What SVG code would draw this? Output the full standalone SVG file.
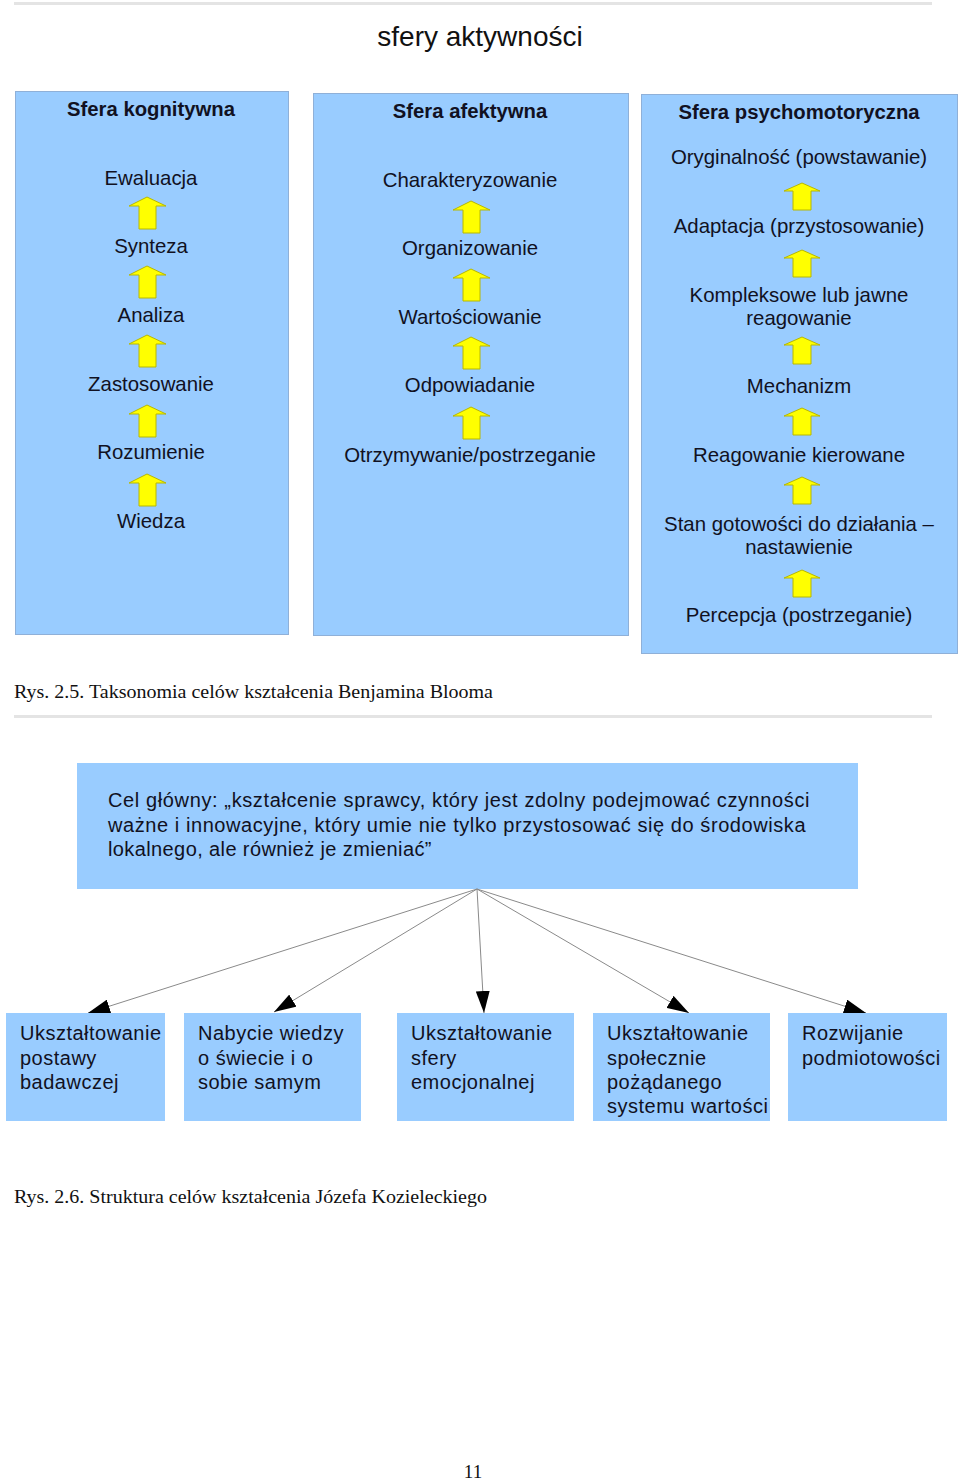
<svg xmlns="http://www.w3.org/2000/svg" width="960" height="1483" viewBox="0 0 960 1483">
<defs>
<style>
.bg{fill:#ffffff}
.sep{fill:#e4e4e4}
.col{fill:#99ccff;stroke:#8fb0d8;stroke-width:1}
.box{fill:#99ccff}
.h{font-family:"Liberation Sans",Arial,sans-serif;font-weight:bold;font-size:20.3px;fill:#111122;text-anchor:middle}
.t{font-family:"Liberation Sans",Arial,sans-serif;font-size:20.4px;fill:#111122;text-anchor:middle}
.b{font-family:"Liberation Sans",Arial,sans-serif;font-size:20px;fill:#111122;letter-spacing:0.5px}
.title{font-family:"Liberation Sans",Arial,sans-serif;font-size:28px;fill:#111111;text-anchor:middle}
.cap{font-family:"Liberation Serif","Times New Roman",serif;font-size:19px;fill:#111111}
.ya{fill:#ffff00;stroke:#b8b800;stroke-width:1}
.con{stroke:#8a8a8a;stroke-width:1;fill:none;marker-end:url(#ah)}
</style>
<path id="upA" d="M0,0 L19,9 L9,9 L9,32 L-8,32 L-8,9 L-18,9 Z"/>
<path id="upB" d="M0,0 L18,8 L9,8 L9,27 L-9,27 L-9,8 L-18,8 Z"/>
<marker id="ah" viewBox="0 0 22 14" refX="22" refY="7" markerWidth="22" markerHeight="14" markerUnits="userSpaceOnUse" orient="auto">
<path d="M0,0 L22,7 L0,14 Z" fill="#000000"/>
</marker>
</defs>
<rect class="bg" x="0" y="0" width="960" height="1483"/>
<rect class="sep" x="14" y="2" width="918" height="3"/>
<text class="title" x="480" y="46">sfery aktywności</text>

<g id="sfera-kognitywna">
<rect class="col" x="15.5" y="91.5" width="273" height="543"/>
<text class="h" x="151" y="116">Sfera kognitywna</text>
<text class="t" x="151" y="185">Ewaluacja</text>
<text class="t" x="151" y="253">Synteza</text>
<text class="t" x="151" y="322">Analiza</text>
<text class="t" x="151" y="391">Zastosowanie</text>
<text class="t" x="151" y="459">Rozumienie</text>
<text class="t" x="151" y="528">Wiedza</text>
<use href="#upA" class="ya" x="147" y="197"/>
<use href="#upA" class="ya" x="147" y="266"/>
<use href="#upA" class="ya" x="147" y="335"/>
<use href="#upA" class="ya" x="147" y="405"/>
<use href="#upA" class="ya" x="147" y="474"/>
</g>

<g id="sfera-afektywna">
<rect class="col" x="313.5" y="93.5" width="315" height="542"/>
<text class="h" x="470" y="118">Sfera afektywna</text>
<text class="t" x="470" y="187">Charakteryzowanie</text>
<text class="t" x="470" y="255">Organizowanie</text>
<text class="t" x="470" y="324">Wartościowanie</text>
<text class="t" x="470" y="392">Odpowiadanie</text>
<text class="t" x="470" y="462">Otrzymywanie/postrzeganie</text>
<use href="#upA" class="ya" x="471" y="201"/>
<use href="#upA" class="ya" x="471" y="269"/>
<use href="#upA" class="ya" x="471" y="337"/>
<use href="#upA" class="ya" x="471" y="407"/>
</g>

<g id="sfera-psychomotoryczna">
<rect class="col" x="641.5" y="94.5" width="316" height="559"/>
<text class="h" x="799" y="119">Sfera psychomotoryczna</text>
<text class="t" x="799" y="164">Oryginalność (powstawanie)</text>
<text class="t" x="799" y="233">Adaptacja (przystosowanie)</text>
<text class="t" x="799" y="302">Kompleksowe lub jawne</text>
<text class="t" x="799" y="325">reagowanie</text>
<text class="t" x="799" y="393">Mechanizm</text>
<text class="t" x="799" y="462">Reagowanie kierowane</text>
<text class="t" x="799" y="531">Stan gotowości do działania –</text>
<text class="t" x="799" y="554">nastawienie</text>
<text class="t" x="799" y="622">Percepcja (postrzeganie)</text>
<use href="#upB" class="ya" x="802" y="183"/>
<use href="#upB" class="ya" x="802" y="250"/>
<use href="#upB" class="ya" x="802" y="337"/>
<use href="#upB" class="ya" x="802" y="408"/>
<use href="#upB" class="ya" x="802" y="477"/>
<use href="#upB" class="ya" x="802" y="570"/>
</g>

<text class="cap" x="14" y="698" textLength="479" lengthAdjust="spacingAndGlyphs">Rys. 2.5. Taksonomia celów kształcenia Benjamina Blooma</text>
<rect class="sep" x="14" y="715" width="918" height="3"/>

<g id="cel-glowny">
<rect class="box" x="77" y="763" width="781" height="126"/>
<text class="b" x="108" y="807" textLength="702" lengthAdjust="spacing">Cel główny: „kształcenie sprawcy, który jest zdolny podejmować czynności</text>
<text class="b" x="108" y="832" textLength="698" lengthAdjust="spacing">ważne i innowacyjne, który umie nie tylko przystosować się do środowiska</text>
<text class="b" x="108" y="856" textLength="324" lengthAdjust="spacing">lokalnego, ale również je zmieniać”</text>
</g>

<g id="connectors">
<line class="con" x1="477" y1="889" x2="88" y2="1013"/>
<line class="con" x1="477" y1="889" x2="274" y2="1012"/>
<line class="con" x1="477" y1="889" x2="484" y2="1013"/>
<line class="con" x1="477" y1="889" x2="689" y2="1013"/>
<line class="con" x1="477" y1="889" x2="866" y2="1013"/>
</g>

<g id="cel-1">
<rect class="box" x="6" y="1013" width="159" height="108"/>
<text class="b" x="20" y="1040">Ukształtowanie</text>
<text class="b" x="20" y="1065">postawy</text>
<text class="b" x="20" y="1089">badawczej</text>
</g>
<g id="cel-2">
<rect class="box" x="184" y="1013" width="177" height="108"/>
<text class="b" x="198" y="1040">Nabycie wiedzy</text>
<text class="b" x="198" y="1065">o świecie i o</text>
<text class="b" x="198" y="1089">sobie samym</text>
</g>
<g id="cel-3">
<rect class="box" x="397" y="1013" width="177" height="108"/>
<text class="b" x="411" y="1040">Ukształtowanie</text>
<text class="b" x="411" y="1065">sfery</text>
<text class="b" x="411" y="1089">emocjonalnej</text>
</g>
<g id="cel-4">
<rect class="box" x="593" y="1013" width="177" height="108"/>
<text class="b" x="607" y="1040">Ukształtowanie</text>
<text class="b" x="607" y="1065">społecznie</text>
<text class="b" x="607" y="1089">pożądanego</text>
<text class="b" x="607" y="1113">systemu wartości</text>
</g>
<g id="cel-5">
<rect class="box" x="788" y="1013" width="159" height="108"/>
<text class="b" x="802" y="1040">Rozwijanie</text>
<text class="b" x="802" y="1065">podmiotowości</text>
</g>

<text class="cap" x="14" y="1203" textLength="473" lengthAdjust="spacingAndGlyphs">Rys. 2.6. Struktura celów kształcenia Józefa Kozieleckiego</text>
<text class="cap" x="473" y="1478" text-anchor="middle" font-size="20">11</text>
</svg>
